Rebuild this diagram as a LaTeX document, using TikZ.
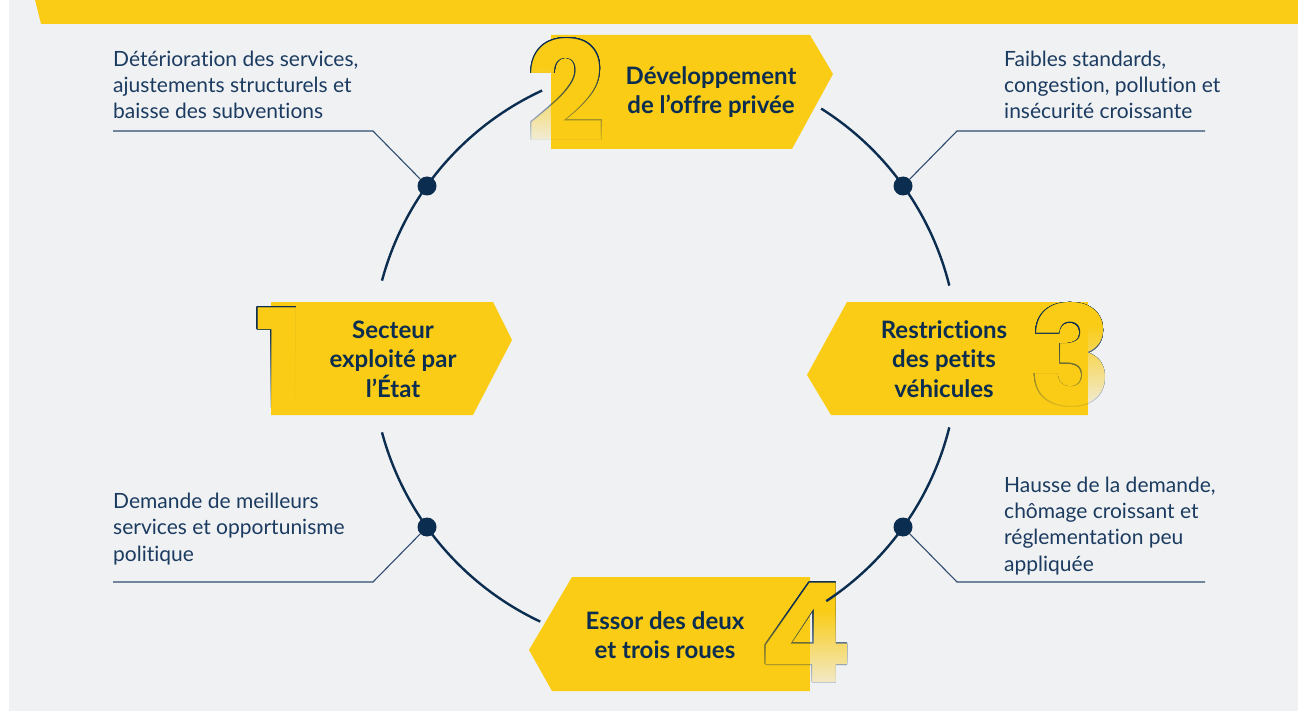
\documentclass[tikz,border=0pt]{standalone}
\usepackage{fontspec}
\setmainfont{Lato}[Ligatures=NoCommon]
\newfontfamily\digitfont{Poppins}
\usepackage[copies]{contour}
\contourlength{0.7pt}
\contournumber{24}
\usetikzlibrary{fadings}

\definecolor{bggray}{HTML}{F0F1F3}
\definecolor{cycleyellow}{HTML}{FACC15}
\definecolor{navy}{HTML}{0B2D50}
\definecolor{textnavy}{HTML}{1B3B60}
\definecolor{leadnavy}{HTML}{2E4C70}

\tikzfading[name=fade bottom, top color=transparent!100, bottom color=transparent!0]

\begin{document}
\begin{tikzpicture}[x=1pt, y=-1pt,
	ring/.style={draw=navy, line width=2.4pt},
	dot/.style={circle, fill=navy, inner sep=0pt, minimum size=19pt},
	leader/.style={draw=leadnavy, line width=1.1pt},
	note/.style={anchor=base west, align=left, text=textnavy, inner sep=0pt,
		font=\fontsize{21}{26.3}\selectfont},
	stage/.style={align=center, text=navy, inner sep=0pt,
		font=\bfseries\fontsize{24}{29.5}\selectfont},
	digit/.style={inner sep=0pt, font=\digitfont\bfseries\fontsize{138}{138}\selectfont}]

	\useasboundingbox (0,0) rectangle (1298,711);
	\fill[white] (0,0) rectangle (1298,711);
	\fill[bggray] (9,0) rectangle (1298,711);
	\fill[cycleyellow] (35,0) -- (1298,0) -- (1298,24) -- (41,24) -- cycle;

	% the four stages
	\fill[cycleyellow] (271,302) -- (493,302) -- (512,340) -- (473,415) -- (271,415) -- cycle;
	\fill[cycleyellow] (551,35) -- (810,35) -- (833,74) -- (792,149) -- (551,149) -- cycle;
	\fill[cycleyellow] (1088,302) -- (847,302) -- (807,375) -- (831,415) -- (1088,415) -- cycle;
	\fill[cycleyellow] (810,577) -- (572,577) -- (529,650) -- (552,691) -- (810,691) -- cycle;

	\node[digit] (n1) at (280,358) {\contour{navy}{\textcolor{cycleyellow}{1}}};
	\node[digit] (n2) at (566,90) {\contour{navy}{\textcolor{cycleyellow}{2}}};
	\node[digit] (n3) at (1071,355) {\contour{navy}{\textcolor{cycleyellow}{3}}};
	\node[digit] (n4) at (806,633) {\contour{navy}{\textcolor{cycleyellow}{4}}};

	% fade the lower half of the digits
	\fill[bggray, path fading=fade bottom] (236,330) rectangle (271,418);
	\fill[cycleyellow, path fading=fade bottom] (271,330) rectangle (310,415);
	\fill[bggray, path fading=fade bottom] (515,66) rectangle (551,150);
	\fill[cycleyellow, path fading=fade bottom] (551,66) rectangle (612,149);
	\fill[bggray, path fading=fade bottom] (1088,325) rectangle (1118,418);
	\fill[cycleyellow, path fading=fade bottom] (1028,325) rectangle (1088,415);
	\fill[bggray, path fading=fade bottom] (810,610) rectangle (852,700);
	\fill[cycleyellow, path fading=fade bottom] (762,610) rectangle (810,691);

	% the cycle
	\coordinate (c) at (665,356.5);
	\draw[ring] (c) ++(195:293) arc[start angle=195, end angle=245.2, radius=293];
	\draw[ring] (c) ++(302.2:293) arc[start angle=302.2, end angle=346, radius=293];
	\draw[ring] (c) ++(14:293) arc[start angle=14, end angle=56.6, radius=293];
	\draw[ring] (c) ++(115.2:293) arc[start angle=115.2, end angle=165, radius=293];

	\node[dot] (d1) at (427,186) {};
	\node[dot] (d2) at (903,186) {};
	\node[dot] (d3) at (903,527) {};
	\node[dot] (d4) at (427,527) {};

	\coordinate (k1) at (373,131);
	\coordinate (e1) at (113,131);
	\coordinate (k2) at (957,131);
	\coordinate (e2) at (1205,131);
	\coordinate (k3) at (957,582);
	\coordinate (e3) at (1205,582);
	\coordinate (k4) at (373,582);
	\coordinate (e4) at (113,582);
	\draw[leader] (d1) -- (k1) -- (e1);
	\draw[leader] (d2) -- (k2) -- (e2);
	\draw[leader] (d3) -- (k3) -- (e3);
	\draw[leader] (d4) -- (k4) -- (e4);

	\node[stage] (s1) at (393,359) {Secteur\\exploité par\\l’État};
	\node[stage] (s2) at (711,92) {Développement\\de l’offre privée};
	\node[stage] (s3) at (944,359) {Restrictions\\des petits\\véhicules};
	\node[stage] (s4) at (665,635) {Essor des deux\\et trois roues};

	% notes (base = last line)
	\node[note] (t1) at (113,119) {Détérioration des services,\\ajustements structurels et\\baisse des subventions};
	\node[note] (t2) at (1004,119) {Faibles standards,\\congestion, pollution et\\insécurité croissante};
	\node[note] (t3) at (1004,571) {Hausse de la demande,\\chômage croissant et\\réglementation peu\\appliquée};
	\node[note] (t4) at (113,561) {Demande de meilleurs\\services et opportunisme\\politique};

\end{tikzpicture}
\end{document}
